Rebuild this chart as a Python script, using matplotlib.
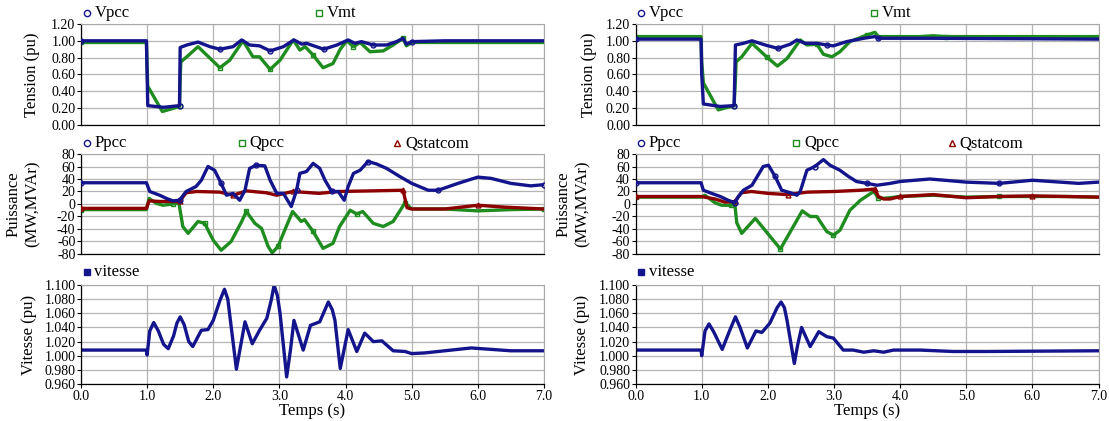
import matplotlib.pyplot as plt
from matplotlib.ticker import FormatStrFormatter, MultipleLocator

plt.rcParams['font.family'] = 'Liberation Serif'
plt.rcParams['axes.unicode_minus'] = False
plt.rcParams['lines.solid_joinstyle'] = 'round'

# ---- left column ----
t_vpcc_l = [0, 0.99, 1.0, 1.01, 1.25, 1.49, 1.50, 1.60, 1.77, 1.95, 2.10, 2.30, 2.43, 2.55, 2.70, 2.86,
            3.06, 3.22, 3.34, 3.41, 3.67, 3.87, 4.04, 4.14, 4.24, 4.42, 4.62, 4.77, 4.87, 4.92, 5.0, 5.5, 6.0, 7.0]
vpcc_l = [1.00, 1.00, 0.60, 0.23, 0.21, 0.23, 0.92, 0.95, 0.985, 0.93, 0.90, 0.93, 1.01, 0.95, 0.94, 0.88,
          0.93, 1.01, 0.96, 0.97, 0.90, 0.95, 1.01, 0.97, 0.99, 0.95, 0.95, 0.99, 1.03, 0.96, 0.99, 1.00, 1.00, 1.00]
t_vmt_l = [0, 0.99, 1.0, 1.01, 1.23, 1.49, 1.50, 1.51, 1.60, 1.77, 2.10, 2.25, 2.45, 2.60, 2.70, 2.86, 3.01,
           3.21, 3.31, 3.39, 3.51, 3.66, 3.81, 3.92, 4.02, 4.12, 4.22, 4.37, 4.57, 4.72, 4.87, 4.92, 5.0, 7.0]
vmt_l = [0.98, 0.98, 0.70, 0.46, 0.16, 0.22, 0.55, 0.75, 0.81, 0.93, 0.68, 0.77, 1.00, 0.81, 0.81, 0.66, 0.77,
         1.01, 0.89, 0.93, 0.83, 0.68, 0.73, 0.90, 1.00, 0.93, 0.98, 0.87, 0.88, 0.95, 1.03, 0.94, 0.98, 0.98]

t_ppcc_l = [0, 0.99, 1.04, 1.19, 1.29, 1.39, 1.49, 1.59, 1.74, 1.82, 1.92, 2.02, 2.12, 2.20, 2.30, 2.40,
            2.48, 2.55, 2.65, 2.78, 2.86, 2.96, 3.06, 3.18, 3.26, 3.31, 3.41, 3.51, 3.61, 3.69, 3.79, 3.89,
            3.98, 4.04, 4.12, 4.22, 4.34, 4.47, 4.62, 4.82, 5.0, 5.25, 5.4, 5.7, 6.0, 6.2, 6.5, 6.8, 7.0]
ppcc_l = [34, 34, 20, 14, 9, 5, 6, 20, 28, 38, 60, 54, 33, 14, 17, 6, 22, 57, 62, 61, 38, 17, 17, -4, 22,
          49, 52, 65, 57, 38, 20, 20, 6, 28, 49, 54, 68, 64, 57, 44, 33, 22, 22, 33, 43, 41, 33, 29, 31]
t_qpcc_l = [0, 0.99, 1.03, 1.14, 1.24, 1.39, 1.48, 1.54, 1.62, 1.77, 1.87, 2.00, 2.12, 2.27, 2.43, 2.50,
            2.63, 2.73, 2.83, 2.89, 2.98, 3.08, 3.20, 3.33, 3.38, 3.51, 3.66, 3.81, 3.91, 4.07, 4.17, 4.26,
            4.42, 4.57, 4.72, 4.90, 5.0, 5.5, 6.0, 6.5, 7.0]
qpcc_l = [-9, -9, 9, 1, -2, 0, 2, -36, -47, -28, -31, -58, -74, -60, -28, -12, -31, -39, -68, -78, -68,
          -42, -12, -28, -25, -44, -71, -63, -36, -10, -16, -12, -31, -36, -28, 2, -8, -8, -11, -9, -8]
t_qst_l = [0, 0.99, 1.03, 1.2, 1.49, 1.59, 1.75, 2.1, 2.3, 2.5, 2.8, 2.96, 3.2, 3.6, 3.9, 4.4, 4.87, 4.93,
           5.0, 5.5, 6.0, 6.4, 7.0]
qst_l = [-7, -7, 5, 4, 4, 18, 20, 19, 14, 21, 18, 14, 20, 17, 20, 21, 22, -6, -8, -8, -2, -5, -8]

t_vit_l = [0, 0.99, 1.0, 1.04, 1.10, 1.17, 1.25, 1.32, 1.40, 1.45, 1.50, 1.56, 1.63, 1.69, 1.82, 1.92, 2.0,
           2.10, 2.17, 2.22, 2.35, 2.41, 2.48, 2.59, 2.70, 2.81, 2.88, 2.92, 2.97, 3.01, 3.11, 3.17, 3.22,
           3.36, 3.47, 3.61, 3.74, 3.80, 3.84, 3.92, 4.04, 4.17, 4.29, 4.42, 4.55, 4.72, 4.9, 5.0, 5.2, 5.5,
           5.9, 6.2, 6.5, 7.0]
vit_l = [1.008, 1.008, 1.001, 1.035, 1.047, 1.035, 1.016, 1.010, 1.028, 1.046, 1.055, 1.044, 1.020, 1.013,
         1.036, 1.037, 1.050, 1.078, 1.094, 1.080, 0.981, 1.012, 1.048, 1.017, 1.036, 1.053, 1.080, 1.100,
         1.085, 1.060, 0.970, 1.010, 1.050, 1.008, 1.043, 1.048, 1.076, 1.065, 1.050, 0.982, 1.037, 1.006,
         1.032, 1.020, 1.021, 1.007, 1.006, 1.003, 1.004, 1.007, 1.011, 1.009, 1.007, 1.007]

# ---- right column ----
t_vpcc_r = [0, 0.99, 1.0, 1.025, 1.28, 1.49, 1.51, 1.63, 1.76, 1.96, 2.15, 2.34, 2.44, 2.56, 2.74, 2.89,
            2.99, 3.19, 3.45, 3.62, 3.67, 4.5, 7.0]
vpcc_r = [1.02, 1.02, 0.60, 0.25, 0.22, 0.23, 0.95, 0.97, 1.00, 0.95, 0.91, 0.96, 1.01, 0.97, 0.97, 0.95,
          0.94, 0.99, 1.03, 1.05, 1.03, 1.03, 1.02]
t_vmt_r = [0, 0.99, 1.0, 1.025, 1.25, 1.49, 1.51, 1.52, 1.605, 1.76, 1.98, 2.145, 2.29, 2.49, 2.59, 2.74,
           2.84, 2.97, 3.09, 3.24, 3.50, 3.62, 3.67, 4.3, 4.5, 4.7, 7.0]
vmt_r = [1.05, 1.05, 0.75, 0.50, 0.18, 0.23, 0.55, 0.75, 0.81, 0.97, 0.81, 0.70, 0.79, 1.01, 0.95, 0.96,
         0.84, 0.81, 0.87, 0.99, 1.07, 1.10, 1.05, 1.05, 1.06, 1.05, 1.05]

t_ppcc_r = [0, 0.99, 1.025, 1.15, 1.28, 1.40, 1.50, 1.555, 1.63, 1.76, 1.93, 2.01, 2.11, 2.21, 2.34, 2.44,
            2.49, 2.59, 2.71, 2.84, 2.94, 3.09, 3.22, 3.34, 3.50, 3.65, 3.85, 4.0, 4.45, 5.0, 5.5, 6.0, 6.7, 7.0]
ppcc_r = [34, 34, 22, 17, 12, 6, 2, 12, 22, 30, 60, 62, 44, 22, 18, 14, 20, 54, 60, 71, 62, 54, 44, 36, 33,
          30, 33, 36, 40, 35, 33, 38, 33, 35]
t_qpcc_r = [0, 0.99, 1.05, 1.2, 1.3, 1.45, 1.50, 1.53, 1.605, 1.81, 2.19, 2.52, 2.64, 2.74, 2.89, 2.99,
            3.09, 3.24, 3.40, 3.60, 3.67, 3.75, 4.0, 4.5, 5.0, 5.5, 6.0, 6.5, 7.0]
qpcc_r = [11, 11, 14, 2, -2, -2, 0, -30, -47, -23, -72, -11, -20, -20, -44, -50, -42, -10, 6, 20, 10, 9,
          12, 14, 11, 12, 12, 12, 11]
t_qst_r = [0, 0.99, 1.2, 1.35, 1.5, 1.6, 1.75, 2.0, 2.3, 2.6, 3.0, 3.4, 3.62, 3.67, 3.75, 3.85, 4.0, 4.5,
           5.0, 5.5, 6.0, 6.5, 7.0]
qst_r = [12, 12, 8, 3, 4, 18, 20, 17, 15, 19, 20, 22, 24, 12, 8, 8, 12, 15, 10, 12, 13, 12, 11]

t_vit_r = [0, 0.99, 1.0, 1.05, 1.11, 1.18, 1.31, 1.42, 1.51, 1.58, 1.69, 1.82, 1.91, 2.03, 2.14, 2.20, 2.25,
           2.29, 2.40, 2.45, 2.51, 2.64, 2.77, 2.89, 2.99, 3.14, 3.29, 3.45, 3.6, 3.75, 3.9, 4.1, 4.3, 4.8,
           5.3, 7.0]
vit_r = [1.008, 1.008, 1.000, 1.035, 1.045, 1.034, 1.009, 1.035, 1.055, 1.040, 1.011, 1.035, 1.033, 1.046,
         1.068, 1.076, 1.068, 1.050, 0.989, 1.015, 1.040, 1.013, 1.034, 1.027, 1.025, 1.008, 1.008, 1.005,
         1.007, 1.005, 1.008, 1.008, 1.008, 1.006, 1.006, 1.007]

BLUE = '#14148c'
GREEN = '#1e8c1e'
RED = '#8c0000'
LW = 2.4

fig = plt.figure(figsize=(11.09, 4.21), dpi=100)


def style_axes(ax, ylim, ystep, fmt, xlabels):
    ax.set_xlim(0, 7)
    ax.set_ylim(*ylim)
    ax.xaxis.set_major_locator(MultipleLocator(1))
    ax.yaxis.set_major_locator(MultipleLocator(ystep))
    ax.yaxis.set_major_formatter(FormatStrFormatter(fmt))
    ax.xaxis.set_major_formatter(FormatStrFormatter('%.1f'))
    ax.grid(True, color='#b4b4b4', lw=0.9)
    ax.set_axisbelow(True)
    for s in ['top', 'right']:
        ax.spines[s].set_color('#a8a8a8')
    for s in ['left', 'bottom']:
        ax.spines[s].set_color('black')
        ax.spines[s].set_linewidth(0.9)
    ax.tick_params(labelsize=10, length=3, width=0.8, pad=1)
    if not xlabels:
        ax.tick_params(axis='x', labelbottom=False, length=0)


def legend_item(ax, x, y, marker, color, label, filled=False):
    ax.plot([x], [y], marker=marker, ms=4.5 if not filled else 4,
            mfc=color if filled else 'none', mec=color, mew=1.0, color=color,
            transform=ax.transAxes, clip_on=False, ls='none')
    ax.text(x + 0.017, y, label, transform=ax.transAxes, fontsize=12, va='center', ha='left')


columns = [
    (0.0730, (t_vpcc_l, vpcc_l, t_vmt_l, vmt_l), (t_ppcc_l, ppcc_l, t_qpcc_l, qpcc_l, t_qst_l, qst_l),
     (t_vit_l, vit_l), (-0.089, -0.088, -0.095)),
    (0.5731, (t_vpcc_r, vpcc_r, t_vmt_r, vmt_r), (t_ppcc_r, ppcc_r, t_qpcc_r, qpcc_r, t_qst_r, qst_r),
     (t_vit_r, vit_r), (-0.083, -0.098, -0.098)),
]

W = 0.4175
for left, tens, puis, vit, labx in columns:
    # tension
    ax1 = fig.add_axes([left, 0.7031, W, 0.240])
    ax1.plot(tens[2], tens[3], color=GREEN, lw=LW, marker='s', ms=3.5, mfc='none', markevery=5, zorder=2)
    ax1.plot(tens[0], tens[1], color=BLUE, lw=LW, marker='o', ms=3.5, mfc='none', markevery=5, zorder=3)
    style_axes(ax1, (0, 1.2), 0.2, '%.2f', False)
    ax1.set_ylabel('Tension (pu)', fontsize=12)
    ax1.yaxis.set_label_coords(labx[0], 0.5)
    legend_item(ax1, 0.012, 1.11, 'o', BLUE, 'Vpcc')
    legend_item(ax1, 0.515, 1.11, 's', GREEN, 'Vmt')

    # puissance
    ax2 = fig.add_axes([left, 0.3967, W, 0.2375])
    ax2.plot(puis[2], puis[3], color=GREEN, lw=LW, marker='s', ms=3.5, mfc='none', markevery=5, zorder=2)
    ax2.plot(puis[4], puis[5], color=RED, lw=LW, marker='^', ms=3.5, mfc='none', markevery=4, zorder=3)
    ax2.plot(puis[0], puis[1], color=BLUE, lw=LW, marker='o', ms=3.5, mfc='none', markevery=6, zorder=4)
    style_axes(ax2, (-80, 80), 20, '%d', False)
    ax2.set_ylabel('Puissance\n(MW,MVAr)', fontsize=12, linespacing=1.25)
    ax2.yaxis.set_label_coords(labx[1], 0.5)
    legend_item(ax2, 0.012, 1.11, 'o', BLUE, 'Ppcc')
    legend_item(ax2, 0.347, 1.11, 's', GREEN, 'Qpcc')
    legend_item(ax2, 0.683, 1.11, '^', RED, 'Qstatcom')

    # vitesse
    ax3 = fig.add_axes([left, 0.0879, W, 0.235])
    ax3.plot(vit[0], vit[1], color=BLUE, lw=LW)
    style_axes(ax3, (0.96, 1.10), 0.02, '%.3f', True)
    ax3.set_ylabel('Vitesse (pu)', fontsize=12)
    ax3.yaxis.set_label_coords(labx[2], 0.5)
    ax3.set_xlabel('Temps (s)', fontsize=12, labelpad=0)
    legend_item(ax3, 0.012, 1.13, 's', BLUE, 'vitesse', filled=True)

fig.savefig('out.png', dpi=100)
